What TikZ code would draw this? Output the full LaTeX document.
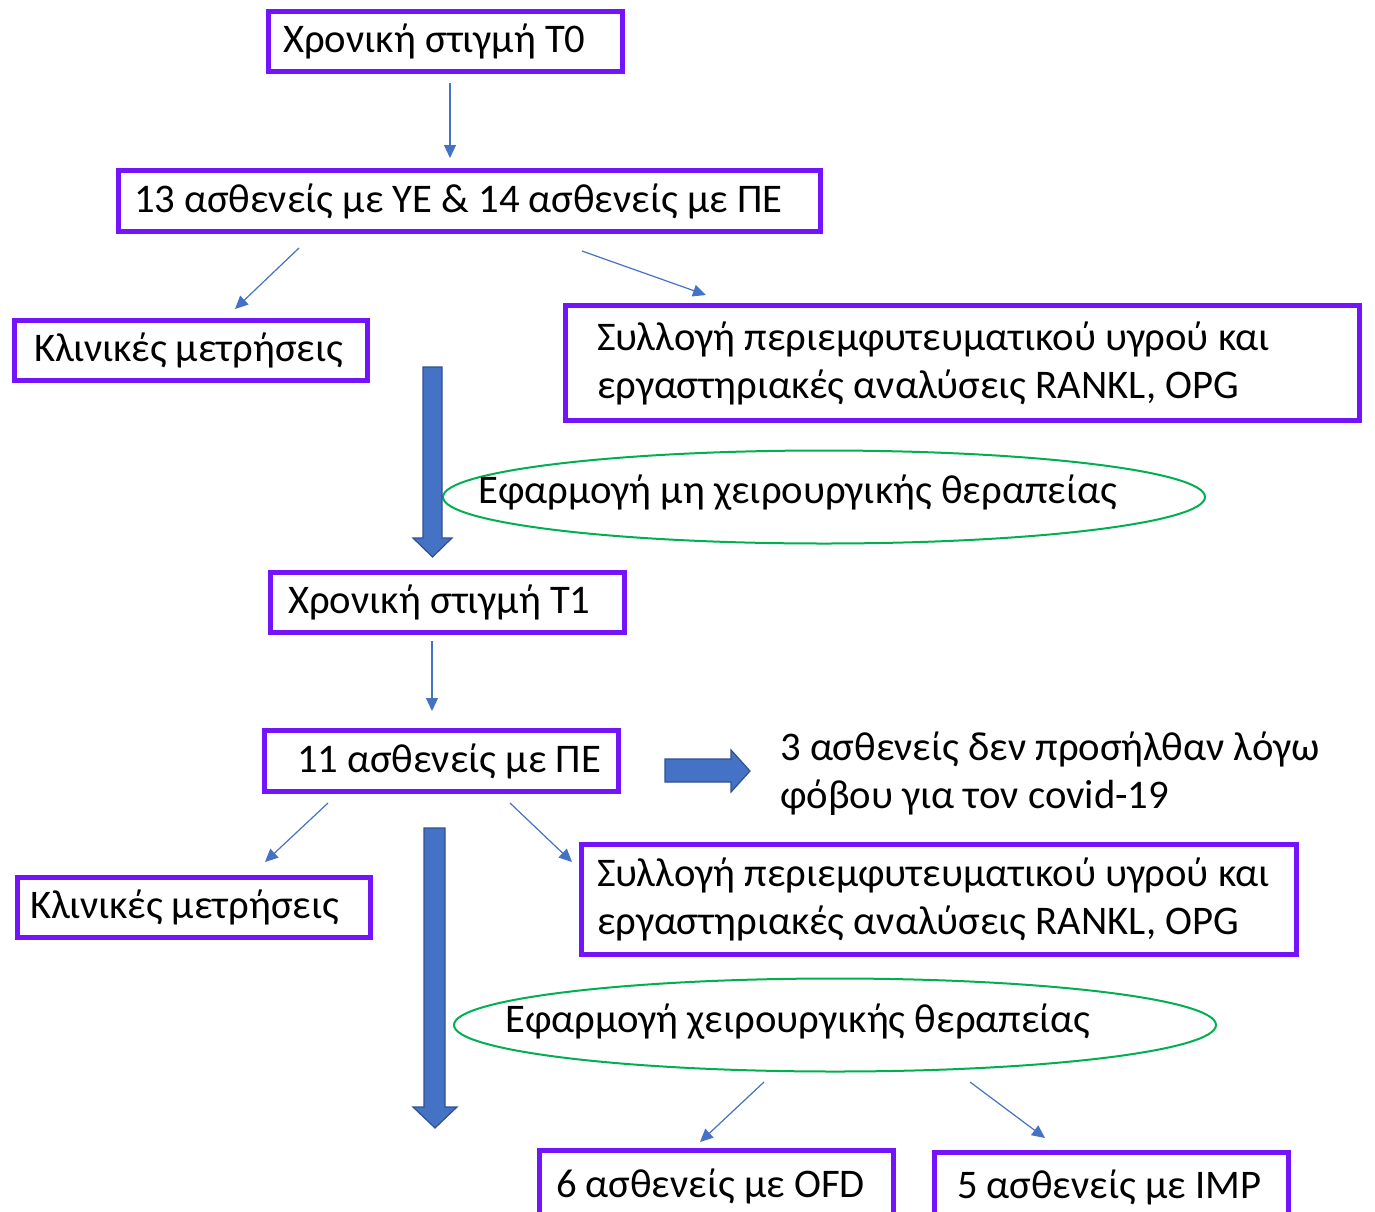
\documentclass[tikz,border=0pt]{standalone}
\usepackage{fontspec}
\setmainfont{Carlito}
\usetikzlibrary{arrows.meta,shapes.geometric}
\newdimen\px \px=0.75pt
\definecolor{purp}{RGB}{115,20,250}
\definecolor{grn}{RGB}{0,176,80}
\definecolor{blu}{RGB}{68,114,196}
\definecolor{bluedge}{RGB}{47,82,143}
\newcommand\fsz{\fontsize{30.5pt}{36pt}\selectfont}
\begin{document}
\begin{tikzpicture}[x=0.75pt,y=-0.75pt,
  box/.style={draw=purp, line width=5\px, rectangle, inner ysep=0pt, align=flush left, font=\fsz, anchor=north west},
  ell/.style={draw=grn, line width=2\px, ellipse, inner sep=0pt},
  txt/.style={font=\fsz, inner sep=0pt, align=left},
  thin/.style={draw=blu, line width=0.9pt, -{Triangle[length=9.75pt,width=9pt]}},
  block/.style={fill=blu, draw=bluedge, line width=0.9pt}]
\useasboundingbox (0,0) rectangle (1375,1211);
% boxes
\node[box, text width=325\px, inner xsep=14.5\px, minimum height=60\px] (t0) at (266,9) {\mbox{Χρονική στιγμή T0}};
\node[box, text width=671\px, inner xsep=15.5\px, minimum height=61\px] (n13) at (116,168) {\mbox{13 ασθενείς με ΥΕ \& 14 ασθενείς με ΠΕ}};
\node[box, text width=314\px, inner xsep=19.5\px, minimum height=60\px] (k1) at (12,318) {\mbox{Κλινικές μετρήσεις}};
\node[box, text width=731\px, inner xsep=31.5\px, minimum height=115\px] (s1) at (563,303) {\mbox{Συλλογή περιεμφυτευματικού υγρού και}\\\mbox{εργαστηριακές αναλύσεις RANKL, OPG}};
\node[box, text width=319\px, inner xsep=17.5\px, minimum height=60\px] (t1) at (268,570) {\mbox{Χρονική στιγμή T1}};
\node[box, text width=289\px, inner xsep=32.5\px, minimum height=61\px] (n11) at (262,728) {\mbox{11 ασθενείς με ΠΕ}};
\node[box, text width=328\px, inner xsep=12.5\px, minimum height=60\px] (k2) at (15,875) {\mbox{Κλινικές μετρήσεις}};
\node[box, text width=684\px, inner xsep=15.5\px, minimum height=110\px] (s2) at (579,842) {\mbox{Συλλογή περιεμφυτευματικού υγρού και}\\\mbox{εργαστηριακές αναλύσεις RANKL, OPG}};
\node[box, text width=321\px, inner xsep=16.5\px, minimum height=72\px] (ofd) at (537,1148) {\mbox{6 ασθενείς με OFD}};
\node[box, text width=309\px, inner xsep=22.5\px, minimum height=70\px] (imp) at (932,1150) {\mbox{5 ασθενείς με IMP}};
% ellipses
\node[ell, minimum width=762\px, minimum height=93\px] (e1) at (824,497) {};
\node[txt, anchor=west] (e1t) at (478,493) {Εφαρμογή μη χειρουργικής θεραπείας};
\node[ell, minimum width=762\px, minimum height=93\px] (e2) at (835,1025) {};
\node[txt, anchor=west] (e2t) at (505,1022) {Εφαρμογή χειρουργικής θεραπείας};
% side text
\node[txt, anchor=west] (covid) at (780,774) {3 ασθενείς δεν προσήλθαν λόγω\\φόβου για τον covid-19};
% block arrows
\draw[block] (423,367) -- (442,367) -- (442,538) -- (452,538) -- (432.5,557) -- (413,538) -- (423,538) -- cycle;
\draw[block] (424,828) -- (445,828) -- (445,1107) -- (457,1107) -- (435,1128) -- (413,1107) -- (424,1107) -- cycle;
\draw[block] (665,759) -- (731,759) -- (731,750) -- (750,771) -- (731,792) -- (731,782) -- (665,782) -- cycle;
% thin arrows
\coordinate (a1s) at (450,83);  \coordinate (a1e) at (450,158);
\coordinate (a2s) at (299,248); \coordinate (a2e) at (235,309);
\coordinate (a3s) at (582,251); \coordinate (a3e) at (706,295);
\coordinate (a4s) at (432,641); \coordinate (a4e) at (432,711);
\coordinate (a5s) at (328,803); \coordinate (a5e) at (265,862);
\coordinate (a6s) at (510,803); \coordinate (a6e) at (572,862);
\coordinate (a7s) at (764,1082); \coordinate (a7e) at (700,1142);
\coordinate (a8s) at (970,1082); \coordinate (a8e) at (1045,1138);
\foreach \i in {1,...,8} {\draw[thin] (a\i s) -- (a\i e);}
\end{tikzpicture}
\end{document}
